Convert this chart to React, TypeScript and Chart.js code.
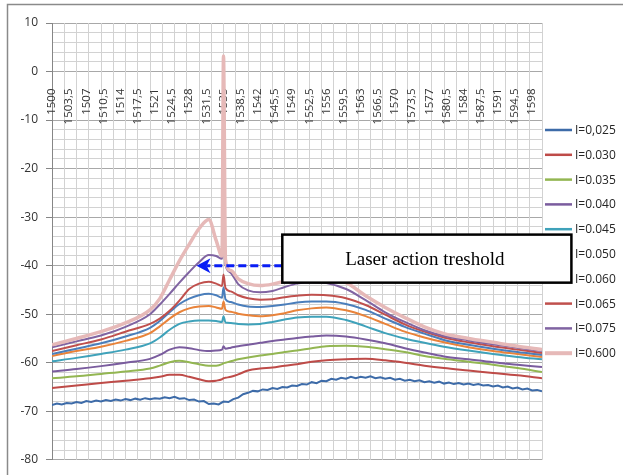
import React, { useEffect, useRef } from 'react';
import { Chart, registerables } from 'chart.js';

Chart.register(...registerables);

// ---------- data ----------
const wavelengths = [1500, 1505, 1510, 1515, 1520, 1522, 1524, 1526, 1528, 1530, 1532, 1533.5, 1534.7, 1535, 1535.4, 1536.5, 1538, 1540, 1542.5, 1545, 1547.5, 1550, 1553, 1556, 1560, 1564, 1568, 1572, 1576, 1580, 1585, 1590, 1595, 1600];

const wavelengthsFine = Array.from({ length: 101 }, (_, i) => 1500 + i);

const s025 = [-68.7, -68.4, -68.6, -68.3, -68.4, -68.1, -68.3, -67.9, -68.1, -67.8, -68.0, -67.7, -67.9, -67.6, -67.8, -67.5, -67.7, -67.4, -67.6, -67.3, -67.5, -67.3, -67.4, -67.1, -67.3, -67.0, -67.4, -67.3, -67.7, -67.6, -68.0, -67.9, -68.5, -68.4, -68.6, -68.0, -68.1, -67.5, -67.2, -66.5, -66.2, -65.8, -65.9, -65.5, -65.6, -65.2, -65.4, -65.0, -65.1, -64.7, -64.8, -64.4, -64.5, -64.0, -64.2, -63.7, -63.8, -63.3, -63.5, -63.1, -63.3, -62.9, -63.2, -62.9, -63.1, -62.8, -63.2, -63.0, -63.3, -63.1, -63.5, -63.3, -63.7, -63.5, -63.8, -63.6, -64.0, -63.8, -64.1, -63.9, -64.3, -64.1, -64.4, -64.2, -64.5, -64.3, -64.6, -64.4, -64.7, -64.6, -64.9, -64.7, -65.1, -64.9, -65.3, -65.1, -65.5, -65.3, -65.7, -65.6, -65.9];
const s030 = [-65.2, -64.7, -64.2, -63.7, -63.2, -62.9, -62.5, -62.5, -62.9, -63.4, -63.8, -63.7, -63.4, -63.2, -63.1, -62.9, -62.4, -61.6, -61.2, -61.0, -60.6, -60.3, -59.8, -59.5, -59.3, -59.2, -59.5, -60.0, -60.6, -61.1, -61.6, -62.1, -62.6, -63.2];
const s035 = [-63.2, -62.8, -62.3, -61.8, -61.2, -60.6, -59.9, -59.6, -59.9, -60.3, -60.6, -60.6, -60.3, -60.1, -60.0, -59.7, -59.3, -58.9, -58.5, -58.2, -57.8, -57.5, -57.0, -56.6, -56.5, -56.7, -57.2, -57.8, -58.6, -59.2, -59.8, -60.4, -61.1, -61.9];
const s040 = [-61.8, -61.3, -60.7, -60.0, -59.2, -58.4, -57.3, -56.8, -57.0, -57.4, -57.6, -57.5, -57.3, -56.6, -57.1, -56.9, -56.6, -56.3, -55.9, -55.5, -55.2, -54.9, -54.6, -54.4, -54.6, -55.2, -56.0, -57.0, -57.9, -58.7, -59.3, -59.9, -60.4, -60.9];
const s045 = [-59.7, -59.0, -58.2, -57.3, -56.0, -54.8, -53.2, -52.0, -51.5, -51.3, -51.3, -51.4, -51.6, -50.4, -51.7, -51.8, -52.0, -52.1, -52.0, -51.6, -51.1, -50.7, -50.5, -50.5, -51.2, -52.5, -53.9, -55.0, -55.9, -56.7, -57.5, -58.2, -58.8, -59.3];
const s050 = [-58.6, -57.6, -56.7, -55.5, -53.9, -52.5, -50.9, -49.6, -48.8, -48.4, -48.3, -48.6, -48.9, -47.4, -49.1, -49.5, -49.9, -50.2, -50.4, -50.2, -49.8, -49.2, -48.8, -48.6, -49.2, -50.4, -52.0, -53.6, -54.8, -55.8, -56.8, -57.6, -58.2, -58.8];
const s060 = [-58.2, -57.1, -56.0, -54.6, -52.8, -51.4, -49.6, -47.9, -46.8, -46.1, -45.8, -46.1, -46.6, -44.5, -46.9, -47.5, -48.0, -48.4, -48.5, -48.3, -48.0, -47.6, -47.4, -47.4, -47.9, -49.1, -50.9, -52.6, -54.0, -55.3, -56.3, -57.1, -57.8, -58.4];
const s065 = [-57.6, -56.4, -55.2, -53.6, -52.0, -50.9, -49.3, -47.2, -44.8, -43.7, -43.3, -43.7, -44.2, -41.8, -44.6, -45.3, -46.1, -46.7, -47.0, -46.9, -46.5, -46.2, -46.0, -46.1, -46.7, -48.1, -50.1, -52.1, -53.6, -54.8, -55.8, -56.6, -57.3, -58.0];
const s075 = [-56.8, -55.6, -54.4, -52.6, -50.0, -48.0, -45.8, -43.5, -41.3, -39.3, -37.8, -38.0, -38.6, -35.0, -39.8, -41.5, -43.8, -45.1, -45.5, -45.2, -44.4, -43.7, -43.4, -43.6, -44.8, -47.1, -49.6, -51.6, -53.3, -54.5, -55.4, -56.2, -56.9, -57.6];
const s600 = [-56.3, -55.0, -53.6, -51.8, -49.1, -46.8, -42.9, -39.0, -35.6, -32.4, -30.5, -34.8, -38.0, 3.2, -38.8, -41.0, -42.7, -43.7, -44.1, -43.8, -43.2, -42.7, -42.4, -42.7, -43.5, -46.2, -48.6, -50.7, -52.6, -54.0, -55.0, -55.8, -56.6, -57.3];

const seriesLabels = ['I=0,025', 'I=0.030', 'I=0.035', 'I=0.040', 'I=0.045', 'I=0.050', 'I=0.060', 'I=0.065', 'I=0.075', 'I=0.600'];
const seriesValues = [s025, s030, s035, s040, s045, s050, s060, s065, s075, s600];
const seriesColors = ['#3D6BA8', '#BE4B48', '#93B652', '#7A5C9E', '#3FA2BA', '#E9833A', '#4A7EBB', '#C0504D', '#8064A2', '#E6B9B8'];

const xTickValues = [1500, 1503.5, 1507, 1510.5, 1514, 1517.5, 1521, 1524.5, 1528, 1531.5, 1535, 1538.5, 1542, 1545.5, 1549, 1552.5, 1556, 1559.5, 1563, 1566.5, 1570, 1573.5, 1577, 1580.5, 1584, 1587.5, 1591, 1594.5, 1598];

const annotationText = 'Laser action treshold';
const arrowLevel = -40;
const arrowTip = 1529.5;
const boxLeftWl = 1547;
const boxRightWl = 1606;
const boxTopVal = -33.6;
const boxBottomVal = -43.5;

const FONT = '"Open Sans", "Noto Sans", sans-serif';

const decorPlugin = {
  id: 'decor',
  afterDraw(chart: any) {
    const ctx = chart.ctx as CanvasRenderingContext2D;
    const xs = chart.scales.x;
    const ys = chart.scales.y;
    ctx.save();
    // outer frame
    ctx.strokeStyle = '#8a8a8a';
    ctx.lineWidth = 1.5;
    ctx.beginPath();
    ctx.moveTo(7.5, 480);
    ctx.lineTo(7.5, 4.5);
    ctx.lineTo(630, 4.5);
    ctx.stroke();

    // legend
    ctx.font = '12px ' + FONT;
    ctx.textBaseline = 'middle';
    ctx.textAlign = 'left';
    chart.data.datasets.forEach((ds: any, i: number) => {
      const y = 130 + i * 24.8;
      ctx.strokeStyle = ds.borderColor;
      ctx.lineWidth = i === 9 ? 4 : 2.5;
      ctx.beginPath();
      ctx.moveTo(545, y);
      ctx.lineTo(572, y);
      ctx.stroke();
      ctx.fillStyle = '#262626';
      ctx.fillText(ds.label, 575, y + 0.5);
    });

    // arrow
    const yPix = ys.getPixelForValue(arrowLevel);
    const tipX = xs.getPixelForValue(arrowTip);
    const boxL = xs.getPixelForValue(boxLeftWl);
    const boxR = xs.getPixelForValue(boxRightWl);
    const boxT = ys.getPixelForValue(boxTopVal);
    const boxB = ys.getPixelForValue(boxBottomVal);
    ctx.strokeStyle = '#0a1ef5';
    ctx.lineWidth = 3;
    ctx.setLineDash([8, 4]);
    ctx.beginPath();
    ctx.moveTo(boxL, yPix);
    ctx.lineTo(tipX + 10, yPix);
    ctx.stroke();
    ctx.setLineDash([]);
    ctx.fillStyle = '#0a1ef5';
    ctx.beginPath();
    ctx.moveTo(tipX, yPix);
    ctx.lineTo(tipX + 14, yPix - 7.5);
    ctx.lineTo(tipX + 10, yPix);
    ctx.lineTo(tipX + 14, yPix + 7.5);
    ctx.closePath();
    ctx.fill();

    // box
    ctx.fillStyle = '#ffffff';
    ctx.fillRect(boxL, boxT, boxR - boxL, boxB - boxT);
    ctx.strokeStyle = '#000000';
    ctx.lineWidth = 2.5;
    ctx.strokeRect(boxL, boxT, boxR - boxL, boxB - boxT);
    ctx.fillStyle = '#000000';
    ctx.font = '19px "Liberation Serif", "Times New Roman", serif';
    ctx.textAlign = 'center';
    ctx.textBaseline = 'middle';
    ctx.fillText(annotationText, (boxL + boxR) / 2 - 2, (boxT + boxB) / 2 + 1);
    ctx.restore();
  },
};

export default function App() {
  const canvasRef = useRef<HTMLCanvasElement | null>(null);

  useEffect(() => {
    const canvas = canvasRef.current;
    if (!canvas) return;
    Chart.defaults.font.family = FONT;

    const datasets = seriesValues.map((vals, i) => {
      const xsArr = i === 0 ? wavelengthsFine : wavelengths;
      return {
        label: seriesLabels[i],
        data: vals.map((v, j) => ({ x: xsArr[j], y: v })),
        borderColor: seriesColors[i],
        backgroundColor: seriesColors[i],
        borderWidth: i === 9 ? 3.5 : 2,
        pointRadius: 0,
        fill: false,
        tension: i === 0 ? 0 : 0.4,
        cubicInterpolationMode: i === 0 ? 'default' : 'monotone',
        order: 10 - i,
        xAxisID: 'x',
        yAxisID: 'y',
      };
    });

    const chart = new Chart(canvas, {
      type: 'line',
      data: { datasets: datasets as any },
      plugins: [decorPlugin],
      options: {
        responsive: false,
        animation: false,
        devicePixelRatio: 1,
        layout: { padding: { left: 0, top: 23, right: 81, bottom: 8 } },
        plugins: {
          legend: { display: false },
          tooltip: { enabled: false },
        },
        scales: {
          y: {
            type: 'linear',
            position: 'left',
            min: -80,
            max: 10,
            afterFit: (scale: any) => {
              scale.width = 52;
            },
            ticks: {
              stepSize: 2,
              autoSkip: false,
              padding: 8,
              color: '#333333',
              font: { size: 12, family: FONT },
              callback: (v: any) => (Number(v) % 10 === 0 ? String(v) : ''),
            },
            grid: {
              color: (c: any) => {
                const v = c.tick ? c.tick.value : 0;
                if (v < 0 && v > -10) return 'rgba(0,0,0,0)';
                return v % 10 === 0 ? '#a8a8a8' : '#d2d2d2';
              },
              tickColor: (c: any) => {
                const v = c.tick ? c.tick.value : 0;
                return v % 10 === 0 ? '#868686' : 'rgba(0,0,0,0)';
              },
              tickLength: 6,
              lineWidth: 1,
            },
            border: { display: true, color: '#868686', width: 1 },
          },
          xg: {
            type: 'linear',
            position: { y: 0 } as any,
            min: 1500,
            max: 1600,
            ticks: { display: false, stepSize: 2.5, autoSkip: false },
            grid: { color: '#d2d2d2', drawTicks: false, lineWidth: 1 },
            border: { display: false },
          },
          x: {
            type: 'linear',
            position: { y: 0 } as any,
            min: 1500,
            max: 1600,
            afterBuildTicks: (scale: any) => {
              scale.ticks = xTickValues.map((v) => ({ value: v }));
            },
            ticks: {
              autoSkip: false,
              maxRotation: 90,
              minRotation: 90,
              padding: 9,
              color: '#333333',
              font: { size: 11.5, family: FONT },
              callback: (v: any) => String(v).replace('.', ','),
            },
            grid: { display: false },
            border: { display: false },
          },
        },
      },
    });
    return () => chart.destroy();
  }, []);

  return (
    <div style={{ position: 'absolute', left: 0, top: 0, width: 623, height: 475, background: '#fff' }}>
      <canvas ref={canvasRef} width={623} height={475} style={{ display: 'block' }} />
    </div>
  );
}
